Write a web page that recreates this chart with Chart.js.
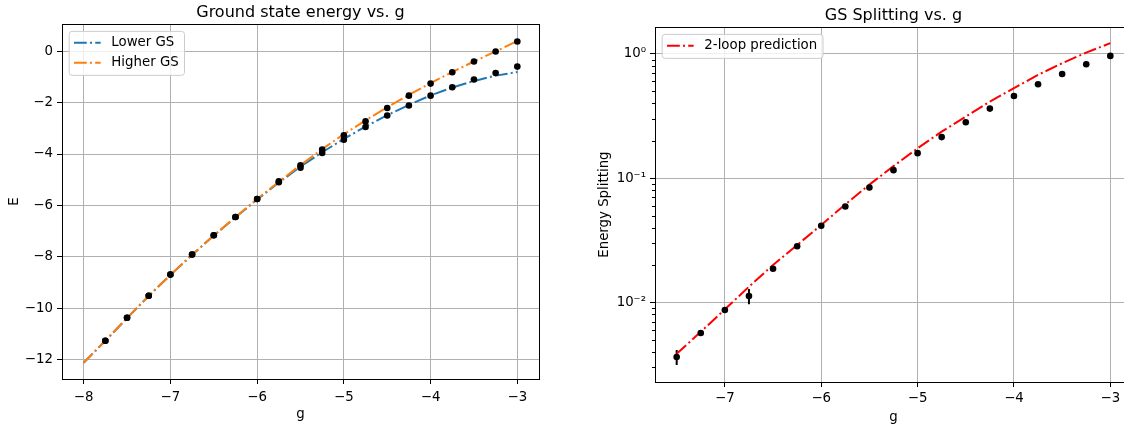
<!DOCTYPE html>
<html>
<head>
<meta charset="utf-8">
<script src="https://cdn.jsdelivr.net/npm/chart.js@4"></script>
<style>
  html, body { margin: 0; padding: 0; background: #fff; overflow: hidden; }
  #wrap { position: relative; width: 1124px; height: 428px; overflow: hidden; }
  #energyChart { position: absolute; left: 0; top: 0; }
  #splitChart { position: absolute; left: 565px; top: 0; }
</style>
</head>
<body>
<div id="wrap">
  <canvas id="energyChart" width="560" height="428"></canvas>
  <canvas id="splitChart" width="590" height="428"></canvas>
</div>
<script>
// left panel: fitted curves
const curveG = [-8, -7.75, -7.5, -7.25, -7, -6.75, -6.5, -6.25, -6, -5.75, -5.5, -5.25, -5, -4.75, -4.5, -4.25, -4, -3.75, -3.5, -3.25, -3];
const lowerCurve = [-12.12, -11.26, -10.38, -9.52, -8.70, -7.92, -7.17, -6.46, -5.77, -5.11, -4.49, -3.93, -3.41, -2.93, -2.49, -2.09, -1.72, -1.41, -1.16, -0.95, -0.81];
const higherCurve = [-12.12, -11.26, -10.38, -9.52, -8.70, -7.92, -7.17, -6.45, -5.75, -5.08, -4.43, -3.81, -3.23, -2.69, -2.18, -1.70, -1.24, -0.81, -0.40, -0.01, 0.40];

// left panel: measured points
const pointG = [-7.75, -7.5, -7.25, -7, -6.75, -6.5, -6.25, -6, -5.75, -5.5, -5.25, -5, -4.75, -4.5, -4.25, -4, -3.75, -3.5, -3.25, -3];
const lowerPts = [-11.26, -10.37, -9.51, -8.69, -7.91, -7.16, -6.45, -5.75, -5.10, -4.53, -3.96, -3.44, -2.95, -2.50, -2.11, -1.73, -1.40, -1.10, -0.85, -0.60];
const higherPts = [-11.26, -10.37, -9.51, -8.69, -7.91, -7.16, -6.45, -5.75, -5.06, -4.44, -3.83, -3.27, -2.73, -2.21, -1.73, -1.26, -0.82, -0.40, -0.01, 0.38];

// right panel
const splitG = [-7.5, -7.25, -7, -6.75, -6.5, -6.25, -6, -5.75, -5.5, -5.25, -5, -4.75, -4.5, -4.25, -4, -3.75, -3.5, -3.25, -3];
const splitVals = [0.00364, 0.00567, 0.00869, 0.01125, 0.01866, 0.0283, 0.0414, 0.0592, 0.0841, 0.116, 0.159, 0.214, 0.282, 0.363, 0.459, 0.570, 0.690, 0.826, 0.964];
const splitErr = [0.0005, 0, 0, 0.0016, 0, 0, 0, 0, 0, 0, 0, 0, 0, 0, 0, 0, 0, 0, 0];
const loopPred = [0.00386, 0.0058, 0.0088, 0.0134, 0.0200, 0.0290, 0.0420, 0.0615, 0.0887, 0.125, 0.174, 0.237, 0.313, 0.413, 0.530, 0.678, 0.841, 1.025, 1.22];

const logTicks = [0.003, 0.004, 0.005, 0.006, 0.007, 0.008, 0.009, 0.01, 0.02, 0.03, 0.04, 0.05, 0.06, 0.07, 0.08, 0.09, 0.1, 0.2, 0.3, 0.4, 0.5, 0.6, 0.7, 0.8, 0.9, 1];
const logTickLabels = ['', '', '', '', '', '', '', '10\u207B\u00B2', '', '', '', '', '', '', '', '', '10\u207B\u00B9', '', '', '', '', '', '', '', '', '10\u2070'];

Chart.defaults.font.family = '"DejaVu Sans"';
Chart.defaults.font.size = 13.33;
Chart.defaults.color = '#000';

const DASHDOT = [12.8, 3.2, 2, 3.2];
const GRID = '#b0b0b0';
const pairs = (xs, ys) => xs.map((x, i) => ({x: x, y: ys[i]}));
const minus = v => String(v).replace('-', '\u2212');

const framePlugin = {
    id: 'frame',
    afterDatasetsDraw(chart) {
        const {ctx, chartArea: a} = chart;
        ctx.save();
        ctx.strokeStyle = '#000';
        ctx.lineWidth = 1;
        ctx.strokeRect(Math.round(a.left) + 0.5, Math.round(a.top) + 0.5, Math.round(a.right - a.left), Math.round(a.bottom - a.top));
        // short minor ticks on log axes
        const y = chart.scales.y;
        if (y.type === 'logarithmic') {
            ctx.beginPath();
            logTicks.forEach((v, i) => {
                if (logTickLabels[i] !== '') return;
                const py = Math.round(y.getPixelForValue(v)) + 0.5;
                ctx.moveTo(a.left - 3, py);
                ctx.lineTo(a.left, py);
            });
            ctx.stroke();
        }
        ctx.restore();
    }
};

const errorBars = {
    id: 'errorBars',
    beforeDatasetsDraw(chart) {
        const {ctx, chartArea: a, scales: {x, y}} = chart;
        ctx.save();
        ctx.beginPath();
        ctx.rect(a.left, a.top, a.right - a.left, a.bottom - a.top);
        ctx.clip();
        ctx.strokeStyle = '#000';
        ctx.lineWidth = 2;
        ctx.beginPath();
        splitG.forEach((g, i) => {
            if (!splitErr[i]) return;
            const px = x.getPixelForValue(g);
            ctx.moveTo(px, y.getPixelForValue(splitVals[i] - splitErr[i]));
            ctx.lineTo(px, y.getPixelForValue(splitVals[i] + splitErr[i]));
        });
        ctx.stroke();
        ctx.restore();
    }
};

const boxLegend = {
    id: 'boxLegend',
    afterDraw(chart) {
        const {ctx, chartArea: a} = chart;
        const fs = 13.33, pad = 5.33, handle = 26.67, gap = 10.67, spacing = 6.67, edge = 6.67;
        const items = chart.data.datasets.filter(d => d.inLegend);
        ctx.save();
        ctx.font = fs + 'px "DejaVu Sans"';
        const textW = Math.max(...items.map(d => ctx.measureText(d.label).width));
        const w = pad * 2 + handle + gap + textW;
        const h = pad * 2 + items.length * fs + (items.length - 1) * spacing;
        const x0 = a.left + edge, y0 = a.top + edge;
        ctx.beginPath();
        ctx.roundRect(x0 + 0.5, y0 + 0.5, w, h, 3);
        ctx.fillStyle = 'rgba(255,255,255,0.8)';
        ctx.fill();
        ctx.strokeStyle = '#cccccc';
        ctx.lineWidth = 1;
        ctx.stroke();
        items.forEach((d, i) => {
            const cy = y0 + pad + fs / 2 + i * (fs + spacing);
            ctx.beginPath();
            ctx.setLineDash(DASHDOT);
            ctx.strokeStyle = d.borderColor;
            ctx.lineWidth = 2;
            ctx.moveTo(x0 + pad, cy);
            ctx.lineTo(x0 + pad + handle, cy);
            ctx.stroke();
            ctx.setLineDash([]);
            ctx.fillStyle = '#000';
            ctx.textBaseline = 'middle';
            ctx.fillText(d.label, x0 + pad + handle + gap, cy);
        });
        ctx.restore();
    }
};

function axisGrid(extra) {
    return Object.assign({color: GRID, tickColor: '#000', tickLength: 5, lineWidth: 1}, extra || {});
}

new Chart(document.getElementById('energyChart'), {
    type: 'scatter',
    data: {
        datasets: [
            {label: 'Lower GS', data: pairs(curveG, lowerCurve), showLine: true, borderColor: '#1f77b4', borderWidth: 2, borderDash: DASHDOT, pointRadius: 0, order: 4, inLegend: true},
            {label: 'Higher GS', data: pairs(curveG, higherCurve), showLine: true, borderColor: '#ff7f0e', borderWidth: 2, borderDash: DASHDOT, pointRadius: 0, order: 3, inLegend: true},
            {label: 'lower points', data: pairs(pointG, lowerPts), pointRadius: 3.3, pointBackgroundColor: '#000', pointBorderWidth: 0, order: 2},
            {label: 'higher points', data: pairs(pointG, higherPts), pointRadius: 3.3, pointBackgroundColor: '#000', pointBorderWidth: 0, order: 1}
        ]
    },
    options: {
        responsive: false,
        animation: false,
        devicePixelRatio: 1,
        layout: {padding: {left: 0, right: 21, top: 0, bottom: 0}},
        plugins: {
            legend: {display: false},
            tooltip: {enabled: false},
            title: {display: true, text: 'Ground state energy vs. g', fullSize: false, font: {size: 16, weight: 'normal'}, color: '#000', padding: {top: 3, bottom: 2}}
        },
        scales: {
            x: {
                type: 'linear', min: -8.25, max: -2.75,
                ticks: {stepSize: 1, includeBounds: false, padding: 6, callback: minus},
                grid: axisGrid(),
                border: {display: false},
                title: {display: true, text: 'g', padding: {top: 0, bottom: 5}},
                afterFit: s => { s.height = 49; }
            },
            y: {
                type: 'linear', min: -12.75, max: 1.05,
                ticks: {stepSize: 2, includeBounds: false, padding: 4, callback: minus},
                grid: axisGrid(),
                border: {display: false},
                title: {display: true, text: 'E', padding: {top: 7, bottom: 0}},
                afterFit: s => { s.width = 62; }
            }
        }
    },
    plugins: [framePlugin, boxLegend]
});

new Chart(document.getElementById('splitChart'), {
    type: 'scatter',
    data: {
        datasets: [
            {label: '2-loop prediction', data: pairs(splitG, loopPred), showLine: true, borderColor: '#ff0000', borderWidth: 2, borderDash: DASHDOT, pointRadius: 0, order: 2, inLegend: true},
            {label: 'splitting', data: pairs(splitG, splitVals), pointRadius: 3.3, pointBackgroundColor: '#000', pointBorderWidth: 0, order: 1}
        ]
    },
    options: {
        responsive: false,
        animation: false,
        devicePixelRatio: 1,
        layout: {padding: {left: 0, right: 23, top: 0, bottom: 0}},
        plugins: {
            legend: {display: false},
            tooltip: {enabled: false},
            title: {display: true, text: 'GS Splitting vs. g', fullSize: false, font: {size: 16, weight: 'normal'}, color: '#000', padding: {top: 6, bottom: 2}}
        },
        scales: {
            x: {
                type: 'linear', min: -7.725, max: -2.775,
                ticks: {stepSize: 1, includeBounds: false, padding: 4, callback: minus},
                grid: axisGrid(),
                border: {display: false},
                title: {display: true, text: 'g', padding: {top: 0, bottom: 2}},
                afterFit: s => { s.height = 46; }
            },
            y: {
                type: 'logarithmic', min: 0.00229, max: 1.64,
                afterBuildTicks: s => { s.ticks = logTicks.map(v => ({value: v})); },
                ticks: {autoSkip: false, padding: 4, callback: (v, i) => logTickLabels[i]},
                grid: axisGrid({
                    color: c => (c.tick && logTickLabels[c.index] !== '') ? GRID : 'rgba(0,0,0,0)',
                    tickColor: c => (c.tick && logTickLabels[c.index] !== '') ? '#000' : 'rgba(0,0,0,0)'
                }),
                border: {display: false},
                title: {display: true, text: 'Energy Splitting', padding: {top: 32, bottom: 0}},
                afterFit: s => { s.width = 90; }
            }
        }
    },
    plugins: [errorBars, framePlugin, boxLegend]
});
</script>
</body>
</html>
